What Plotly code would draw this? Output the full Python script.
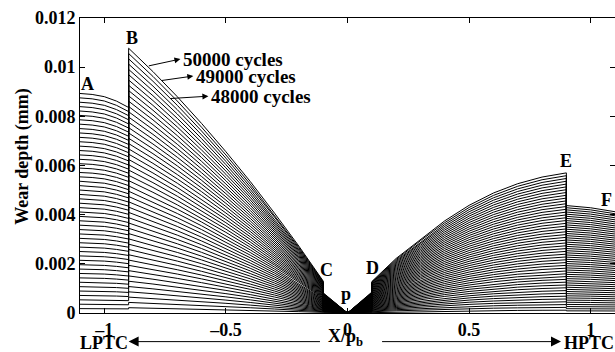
import plotly.graph_objects as go

# Wear-depth profile along the tooth flank after 50000 cycles, split into
# the contact segments A, B-C, C-p, p-D, D-E and E-F.
x_A = [-1.1, -1.05, -1.0, -0.95, -0.9]
y_A = [0.00893, 0.00889, 0.00880, 0.00862, 0.00836]

x_BC = [-0.9, -0.8, -0.7, -0.6, -0.5, -0.4, -0.3, -0.2, -0.1]
y_BC = [0.01077, 0.00982, 0.00880, 0.00771, 0.00656, 0.00535, 0.00406, 0.00272, 0.00130]

x_Cp = [-0.1, 0.0]
y_Cp = [0.00082, 0.0]

x_pD = [0.0, 0.1]
y_pD = [0.0, 0.00085]

x_DE = [0.1, 0.2, 0.3, 0.4, 0.5, 0.6, 0.7, 0.8, 0.9]
y_DE = [0.00128, 0.00222, 0.00300, 0.00375, 0.00438, 0.00488, 0.00526, 0.00553, 0.00570]

x_EF = [0.9, 1.0, 1.1]
y_EF = [0.00437, 0.00428, 0.00412]

# Load cycles at which the profile is plotted
cycles = list(range(1000, 50001, 1000))
final_cycles = 50000

x_ticks = [-1, -0.5, 0, 0.5, 1]
x_tick_text = ["\u20131", "\u20130.5", "0", "0.5", "1"]
y_ticks = [0, 0.002, 0.004, 0.006, 0.008, 0.010, 0.012]
y_tick_text = ["0", "0.002", "0.004", "0.006", "0.008", "0.01", "0.012"]

profile_x = x_A + x_BC + x_Cp + x_pD + x_DE + x_EF
profile_y = y_A + y_BC + y_Cp + y_pD + y_DE + y_EF

FONT = "Liberation Serif"
bold = dict(family=FONT, size=18, color="black", weight="bold")
bold_big = dict(family=FONT, size=19, color="black", weight="bold")

fig = go.Figure()
for n in cycles:
    scale = n / final_cycles
    fig.add_trace(go.Scatter(
        x=profile_x,
        y=[v * scale for v in profile_y],
        mode="lines",
        line=dict(color="black", width=1),
        showlegend=False,
        hoverinfo="skip",
    ))

axis_common = dict(
    showline=True, linecolor="black", linewidth=1, mirror="allticks",
    ticks="inside", ticklen=5, tickcolor="black", tickwidth=1,
    showgrid=False, zeroline=False, tickfont=bold,
)
fig.update_xaxes(range=[-1.1, 1.1], tickvals=x_ticks, ticktext=x_tick_text, **axis_common)
fig.update_yaxes(range=[0, 0.012], tickvals=y_ticks, ticktext=y_tick_text, **axis_common)

annotations = []
# point labels on the profile
for label, lx, ly in [("A", -1.07, 0.0093), ("B", -0.887, 0.0112), ("C", -0.088, 0.00175),
                      ("D", 0.102, 0.00183), ("E", 0.9, 0.0062), ("F", 1.067, 0.0046),
                      ("p", -0.005, 0.00078)]:
    annotations.append(dict(x=lx, y=ly, xref="x", yref="y", text=label, showarrow=False,
                            font=bold, xanchor="center", yanchor="middle"))

# cycle labels with arrows pointing from their curves
for text, tx, ty, cx, cy in [("50000 cycles", -0.687, 0.01033, -0.823, 0.01004),
                             ("49000 cycles", -0.634, 0.00964, -0.769, 0.00945),
                             ("48000 cycles", -0.572, 0.00882, -0.735, 0.00872)]:
    annotations.append(dict(x=tx, y=ty, xref="x", yref="y", ax=cx, ay=cy, axref="x", ayref="y",
                            text="", showarrow=True, arrowhead=2, arrowsize=1.2,
                            arrowwidth=1, arrowcolor="black"))
    annotations.append(dict(x=tx + 0.004, y=ty, xref="x", yref="y", text=text, showarrow=False,
                            font=bold_big, xanchor="left", yanchor="middle"))

# axis titles
annotations.append(dict(x=-0.108, y=0.53, xref="paper", yref="paper", text="Wear depth (mm)",
                        textangle=-90, showarrow=False, font=bold,
                        xanchor="center", yanchor="middle"))
annotations.append(dict(x=-0.01, y=-0.082, xref="x", yref="paper", text="X/p<sub>b</sub>",
                        showarrow=False, font=bold, xanchor="center", yanchor="middle"))

# direction arrows towards the lowest / highest points of tooth contact
arrow_y = -0.097
annotations.append(dict(x=-0.9, y=arrow_y, xref="x", yref="paper", ax=-0.107, ay=0,
                        axref="x", ayref="pixel", text="", showarrow=True, arrowhead=2,
                        arrowsize=2, arrowwidth=1, arrowcolor="black"))
annotations.append(dict(x=0.878, y=arrow_y, xref="x", yref="paper", ax=0.136, ay=0,
                        axref="x", ayref="pixel", text="", showarrow=True, arrowhead=2,
                        arrowsize=2, arrowwidth=1, arrowcolor="black"))
annotations.append(dict(x=-1.003, y=-0.103, xref="x", yref="paper", text="LPTC",
                        showarrow=False, font=bold, xanchor="center", yanchor="middle"))
annotations.append(dict(x=0.884, y=-0.103, xref="x", yref="paper", text="HPTC",
                        showarrow=False, font=bold, xanchor="left", yanchor="middle"))

fig.update_layout(
    width=615, height=352,
    margin=dict(l=80, r=0, t=18, b=39),
    paper_bgcolor="white", plot_bgcolor="white",
    annotations=annotations,
    font=bold,
)

fig.write_html("out.html")
